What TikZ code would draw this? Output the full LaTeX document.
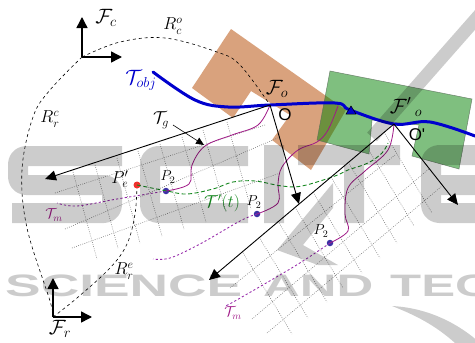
\documentclass[tikz,border=0pt]{standalone}
\usepackage[no-math]{fontspec}
\usetikzlibrary{arrows.meta}
\newfontfamily\wmfont{Liberation Sans}[BoldFont={Liberation Sans Bold}]
\newfontfamily\obfont{Liberation Sans}
\definecolor{orangeb}{RGB}{217,162,125}
\definecolor{greenb}{RGB}{0,128,0}
\definecolor{edgeg}{RGB}{90,110,90}
\definecolor{blueT}{RGB}{0,0,205}
\definecolor{purp}{RGB}{160,25,135}
\definecolor{purpd}{RGB}{150,40,170}
\definecolor{greenT}{RGB}{20,135,30}
\definecolor{dotb}{RGB}{60,50,165}
\definecolor{dotr}{RGB}{240,50,45}
\tikzset{
 axisarrow/.style={line width=1.5pt,-{Triangle[width=11pt,length=11pt]}},
 bigarrow/.style={line width=.9pt,-{Triangle[width=10pt,length=11pt]}},
 refcurve/.style={black,line width=.6pt,dash pattern=on 3pt off 3pt},
 gridline/.style={gray,line width=.6pt,dash pattern=on .8pt off 1.4pt},
 trajsolid/.style={purp,line width=.8pt},
 trajdash/.style={purpd,line width=.85pt,dash pattern=on 2.2pt off 2.2pt},
 bigdot/.style={circle,inner sep=0pt,minimum size=6.5pt,fill=dotb},
 lab/.style={inner sep=0pt,font=\fontsize{21}{21}\selectfont},
 labm/.style={inner sep=0pt,font=\fontsize{17}{17}\selectfont},
 labs/.style={inner sep=0pt,font=\fontsize{14}{14}\selectfont},
 labt/.style={inner sep=0pt,text=purp,font=\fontsize{14}{14}\selectfont},
 labo/.style={inner sep=0pt,font=\obfont\fontsize{17}{17}\selectfont},
 wm/.style={line width=20pt,black,line join=round,rounded corners=8pt},
 wmplain/.style={line width=20pt,black},
 wmtext/.style={inner sep=0pt,black,font=\wmfont\bfseries\fontsize{31}{31}\selectfont}
}
\begin{document}
\begin{tikzpicture}[x=1pt,y=-1pt]
\useasboundingbox (0,0) rectangle (475,343);
% named points
\coordinate (Fc) at (82,57);
\coordinate (Fcx) at (122,57);
\coordinate (Fcy) at (82,17);
\coordinate (Fr) at (53,317);
\coordinate (Frx) at (92,317);
\coordinate (Fry) at (53,278);
\coordinate (Fo) at (270,105);
\coordinate (Fop) at (394,124);
\coordinate (Fmid) at (338,106);
\coordinate (a1) at (45,179);
\coordinate (a2) at (299,204);
\coordinate (a3) at (209,280);
\coordinate (a4) at (458,205);
\coordinate (g1) at (173,125);
\coordinate (g2) at (204,145);
% shapes
\fill[orangeb] (231,29) -- (346,110) -- (311,170) -- (272,140) -- (290,115) -- (251,91) -- (233,118) -- (192,88) -- cycle;
\filldraw[fill=greenb,fill opacity=.5,draw=edgeg,draw opacity=.8,line width=.5pt] (330,71) -- (472,99) -- (459,169) -- (412,156) -- (419,125) -- (372,120) -- (369,154) -- (317,140) -- cycle;
% grids
\foreach \sx/\sy/\ex/\ey in {73/172/97/259,95/165/118/248,117/158/140/243,138/151/162/236,160/144/184/229,182/137/206/222,203/130/226/212,227/122/251/209}
  \draw[gridline] (\sx,\sy) -- (\ex,\ey);
\foreach \sx/\sy/\ex/\ey in {55/193/265/125,65/229/280/137,72/248/280/173}
  \draw[gridline] (\sx,\sy) -- (\ex,\ey);
\foreach \sx/\sy/\ex/\ey in {242/251/292/334,259/237/308/318,278/221/327/302,295/207/343/288,313/192/362/273,331/177/380/258,348/162/397/243,367/147/414/226,384/132/432/213}
  \draw[gridline] (\sx,\sy) -- (\ex,\ey);
\foreach \sx/\sy/\ex/\ey in {230/288/395/155,252/319/430/168,267/333/442/186}
  \draw[gridline] (\sx,\sy) -- (\ex,\ey);
% dashed reference curves
\draw[refcurve] plot[smooth,tension=.6] coordinates {(Fc) (120,42) (165,38) (217,52) (240,65) (Fo)};
\draw[refcurve] plot[smooth,tension=.6] coordinates {(Fc) (50,90) (33,117) (22,170) (27,228) (50,301) (Fr)};
\draw[refcurve] plot[smooth,tension=.6] coordinates {(Fr) (77,298) (110,268) (127,244) (135,214) (137,185)};
% frames
\draw[axisarrow] (Fc) -- (Fcx);
\draw[axisarrow] (Fc) -- (Fcy);
\draw[axisarrow] (Fr) -- (Frx);
\draw[axisarrow] (Fr) -- (Fry);
% points
\node[circle,inner sep=0pt,minimum size=7pt,fill=dotr] (Pe) at (137,185) {};
\node[bigdot] (P1) at (166,191) {};
\node[bigdot] (P2) at (257,214) {};
\node[bigdot] (P3) at (330,243) {};
% trajectories
\draw[trajsolid] plot[smooth,tension=.6] coordinates {(Fo) (258,125) (232,135) (205,146) (192,165) (189,184) (P1)};
\draw[trajsolid] plot[smooth,tension=.6] coordinates {(Fmid) (328,130) (317,142) (298,150) (282,167) (278,184) (278,203) (P2)};
\draw[trajsolid] plot[smooth,tension=.6] coordinates {(Fop) (388,150) (365,171) (348,188) (345,214) (348,231) (P3)};
\draw[trajdash] plot[smooth,tension=.6] coordinates {(P1) (117,199) (77,206) (57,203)};
\draw[trajdash] plot[smooth,tension=.6] coordinates {(P2) (240,221) (200,244) (170,258) (153,259)};
\draw[trajdash] plot[smooth,tension=.6] coordinates {(P3) (295,266) (235,301) (227,305)};
\draw[greenT,line width=.9pt,dash pattern=on 4pt off 2.5pt] plot[smooth,tension=.6] coordinates {(Pe) (167,191) (187,194) (213,189) (233,182) (255,181) (282,186) (302,186) (335,176) (348,170) (368,163) (382,153) (388,143)};
% object path
\draw[blueT,line width=3pt,line cap=round] plot[smooth,tension=.6] coordinates {(153,72) (195,100) (228,107) (Fo) (335,103) (350,110) (Fop) (430,122) (475,136)};
\draw[black,line width=.5pt,fill=blueT] (346,114) -- (351,106) -- (356,114) -- cycle;
% arrows
\draw[bigarrow] (Fo) -- (a1);
\draw[bigarrow] (Fo) -- (a2);
\draw[bigarrow] (Fop) -- (a3);
\draw[bigarrow] (Fop) -- (a4);
\draw[line width=.6pt,-{Triangle[width=7pt,length=8pt]}] (g1) -- (g2);
% labels
\node[lab] (LFc) at (106,18) {$\mathcal{F}_c$};
\node[lab] (LFr) at (60,329) {$\mathcal{F}_r$};
\node[lab] (LFo) at (277,89) {$\mathcal{F}_o$};
\node[lab] (LFop) at (406,107) {$\mathcal{F}'\,{}_o$};
\node[lab,text=blueT] (LTo) at (141,80) {$\mathcal{T}_{obj}$};
\node[labm] (LRco) at (173,26) {$R_c^o$};
\node[labm] (LRrc) at (50,119) {$R_r^c$};
\node[labm] (LRre) at (124,271) {$R_r^e$};
\node[lab,font=\fontsize{18}{18}\selectfont] (LTg) at (161,120) {$\mathcal{T}_g$};
\node[labm,font=\fontsize{18}{18}\selectfont] (LPe) at (120,179) {$P'_e$};
\node[labs] (LP1) at (168,177) {$P_2$};
\node[labs] (LP2) at (254,202) {$P_2$};
\node[labs] (LP3) at (321,231) {$P_2$};
\node[labt] (LTm1) at (54,215) {$\mathcal{T}_m$};
\node[labt] (LTm2) at (233,313) {$\mathcal{T}_m$};
\node[inner sep=0pt,text=greenT,font=\fontsize{18}{18}\selectfont] (LTt) at (222,203) {$\mathcal{T}'(t)$};
\node[labo] (LO) at (285,115) {O};
\node[labo] (LOp) at (417,135) {O'};
% watermark
\begin{scope}[transparency group,opacity=.2]
\clip (0,0) rectangle (475,343);
\draw[wm] (122,156) -- (18,156) -- (18,185) -- (112,185) -- (112,213) -- (12,213);
\draw[wm] (248,156) -- (150,156) -- (150,213) -- (248,213);
\draw[wmplain] (274,145) -- (274,223);
\draw[wmplain] (298,155) -- (400,155);
\draw[wmplain] (354,155) -- (354,223);
\draw[wm] (480,155) -- (431,155) -- (431,213) -- (480,213);
\draw[wmplain] (431,185) -- (480,185);
\draw[black,line width=13pt] (482,12) -- (372,137);
\fill[black] (277,250) -- (333,183) -- (333,208) -- (303,245) -- (338,265) -- (318,265) -- cycle;
\fill[black] (392,306) .. controls (430,308) and (460,325) .. (480,343) -- (455,343) .. controls (435,325) and (415,315) .. (392,306) -- cycle;
\node[wmtext,anchor=west] (W1) at (5,286) {\scalebox{1.72}[1]{SCIENCE}};
\node[wmtext,anchor=west] (W2) at (263,286) {\scalebox{1.64}[1]{AND}};
\node[wmtext,anchor=west] (W3) at (390,286) {\scalebox{1.64}[1]{TEC}};
\end{scope}
\end{tikzpicture}
\end{document}
